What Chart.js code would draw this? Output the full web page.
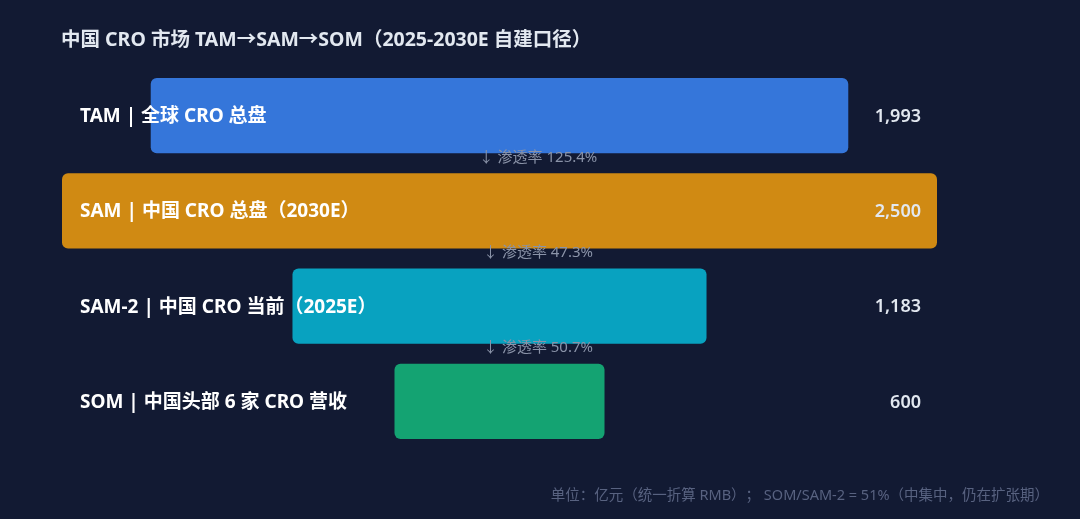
<!DOCTYPE html>
<html>
<head>
<meta charset="utf-8">
<script src="https://cdn.jsdelivr.net/npm/chart.js@4"></script>
<style>
  html, body { margin: 0; padding: 0; background: #121a33; }
  #wrap { width: 1080px; height: 519px; position: relative; }
</style>
</head>
<body>
<div id="wrap"><canvas id="funnelChart"></canvas></div>
<script>
const categories = ['TAM | 全球 CRO 总盘', 'SAM | 中国 CRO 总盘（2030E）', 'SAM-2 | 中国 CRO 当前（2025E）', 'SOM | 中国头部 6 家 CRO 营收'];
const values = [1993, 2500, 1183, 600];
const colors = ['#3576da', '#d08a13', '#08a2c0', '#14a372'];
const title = '中国 CRO 市场 TAM→SAM→SOM（2025-2030E 自建口径）';
const footnote = '单位：亿元（统一折算 RMB）； SOM/SAM-2 = 51%（中集中，仍在扩张期）';

const FONT = '"Noto Sans", "Noto Sans CJK SC", sans-serif';
const ctx = document.getElementById('funnelChart').getContext('2d');

// custom drawing: title, row labels, values, penetration notes, footnote
const funnelText = {
  id: 'funnelText',
  afterDatasetsDraw(chart) {
    const c = chart.ctx;
    const meta = chart.getDatasetMeta(0);
    c.save();
    c.textBaseline = 'middle';

    c.fillStyle = '#e2e8f0';
    c.font = 'bold 19.5px ' + FONT;
    c.textAlign = 'left';
    c.fillText(title, 61, 40);

    meta.data.forEach((bar, i) => {
      c.fillStyle = '#ffffff';
      c.font = 'bold 19px ' + FONT;
      c.textAlign = 'left';
      c.fillText(categories[i], 80, bar.y + 1);

      c.fillStyle = '#e2e8f0';
      c.font = '600 18px ' + FONT;
      c.textAlign = 'right';
      c.fillText(values[i].toLocaleString('en-US'), 921, bar.y + 1);

      if (i > 0) {
        const prev = meta.data[i - 1];
        const rate = (values[i] / values[i - 1] * 100).toFixed(1);
        c.fillStyle = '#8a93a8';
        c.font = '15px ' + FONT;
        c.textAlign = 'center';
        c.fillText('↓ 渗透率 ' + rate + '%', chart.width / 2 - 2, prev.y + prev.height / 2 + 4);
      }
    });

    c.fillStyle = '#586280';
    c.font = '14.5px ' + FONT;
    c.textAlign = 'right';
    c.fillText(footnote, 1049, 496);
    c.restore();
  }
};

new Chart(ctx, {
  type: 'bar',
  data: {
    labels: categories,
    datasets: [
      {
        data: values.map(v => [-v / 2, v / 2]),
        backgroundColor: colors,
        borderWidth: 0,
        borderRadius: 6,
        borderSkipped: false,
        barPercentage: 0.79,
        categoryPercentage: 1,
      },
    ],
  },
  options: {
    indexAxis: 'y',
    responsive: true,
    maintainAspectRatio: false,
    animation: false,
    layout: {
      padding: { left: 62, right: 143, top: 68, bottom: 70 },
    },
    scales: {
      x: { min: -1250, max: 1250, display: false },
      y: { display: false },
    },
    plugins: {
      legend: { display: false },
      tooltip: { enabled: false },
    },
  },
  plugins: [funnelText],
});
</script>
</body>
</html>
